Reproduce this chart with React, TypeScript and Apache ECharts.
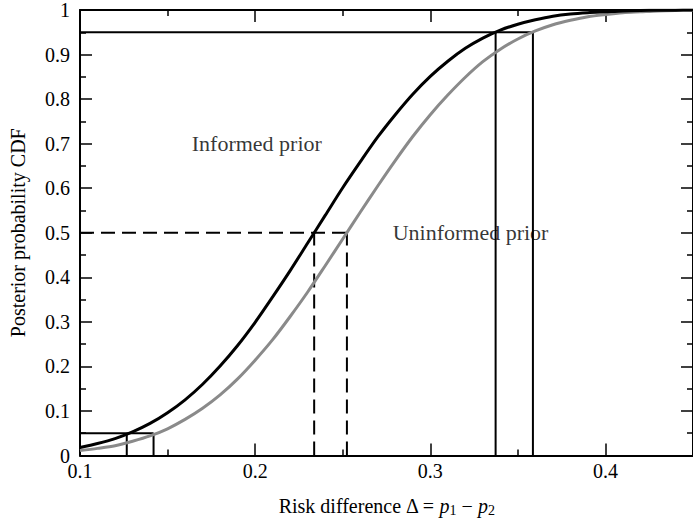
import React, { useEffect, useRef } from "react";
import * as echarts from "echarts";

// Risk difference grid (x) and posterior CDF values
const riskDiff = [0.10, 0.11, 0.12, 0.13, 0.14, 0.15, 0.16, 0.17, 0.18, 0.19, 0.20, 0.21, 0.22, 0.23, 0.24, 0.25, 0.26, 0.27, 0.28, 0.29, 0.30, 0.31, 0.32, 0.33, 0.34, 0.35, 0.36, 0.37, 0.38, 0.39, 0.40, 0.41, 0.42, 0.43, 0.44, 0.45];
const informedCdf = [0.018, 0.027, 0.038, 0.053, 0.072, 0.096, 0.125, 0.160, 0.201, 0.247, 0.299, 0.356, 0.415, 0.477, 0.539, 0.601, 0.659, 0.715, 0.765, 0.811, 0.851, 0.885, 0.914, 0.937, 0.955, 0.968, 0.978, 0.986, 0.991, 0.994, 0.996, 0.998, 0.999, 0.9994, 0.9997, 0.9998];
const uninformedCdf = [0.011, 0.016, 0.022, 0.032, 0.044, 0.060, 0.081, 0.106, 0.136, 0.172, 0.214, 0.260, 0.312, 0.367, 0.426, 0.486, 0.546, 0.605, 0.662, 0.716, 0.765, 0.809, 0.849, 0.884, 0.912, 0.935, 0.953, 0.967, 0.977, 0.985, 0.990, 0.994, 0.996, 0.998, 0.999, 0.9994];

// Quantile reference lines
const probLevels = [0.05, 0.5, 0.95];
const informedQuantiles = [0.1267, 0.2337, 0.3373];
const uninformedQuantiles = [0.142, 0.2524, 0.3586];
const dashedLevel = [false, true, false];

// Annotations
const annotationTexts = ["Informed prior", "Uninformed prior"];
const annotationX = [0.1638, 0.2785];
const annotationY = [0.70, 0.501];

const xTitle = "Risk difference Δ = {i|p}{s|1} − {i|p}{s|2}";
const yTitle = "Posterior probability CDF";

const FONT = "Liberation Serif";

export default function App() {
  const ref = useRef<HTMLDivElement>(null);
  useEffect(() => {
    if (!ref.current) return;
    const chart = echarts.init(ref.current, null, { renderer: "svg" });
    const xMin = 0.1;
    const refSeries: any[] = [];
    probLevels.forEach((p, k) => {
      const style = {
        color: "#000",
        width: 2,
        type: dashedLevel[k] ? [14, 7] : "solid",
      };
      const segs = [
        [[xMin, p], [uninformedQuantiles[k], p]],
        [[informedQuantiles[k], 0], [informedQuantiles[k], p]],
        [[uninformedQuantiles[k], 0], [uninformedQuantiles[k], p]],
      ];
      segs.forEach((d) => {
        refSeries.push({
          type: "line",
          data: d,
          showSymbol: false,
          symbol: "none",
          lineStyle: style,
          xAxisIndex: 0,
          yAxisIndex: 0,
          z: 3,
          silent: true,
        });
      });
    });

    const commonTick = {
      axisLine: { show: true, onZero: false, lineStyle: { color: "#000", width: 2 } },
      axisTick: { show: true, inside: true, length: 12, lineStyle: { color: "#000", width: 1.5 } },
      minorTick: { show: true, splitNumber: 2, length: 6, lineStyle: { color: "#000", width: 1.5 } },
      splitLine: { show: false },
      minorSplitLine: { show: false },
    };

    chart.setOption({
      animation: false,
      backgroundColor: "#fff",
      grid: { left: 80, right: -6.5, top: 10, bottom: 67.5, containLabel: false },
      xAxis: [
        {
          type: "value",
          min: 0.1,
          max: 0.45,
          interval: 0.1,
          position: "bottom",
          ...commonTick,
          axisLabel: {
            color: "#000",
            fontFamily: FONT,
            fontSize: 20,
            margin: 5,
            showMaxLabel: false,
          },
          name: xTitle,
          nameLocation: "middle",
          nameGap: 38,
          nameTextStyle: {
            color: "#000",
            fontFamily: FONT,
            fontSize: 20,
            rich: {
              i: { fontFamily: FONT, fontSize: 20, fontStyle: "italic", color: "#000" },
              s: { fontFamily: FONT, fontSize: 14, color: "#000", padding: [10, 0, 0, 0] },
            },
          },
        },
        {
          type: "value",
          min: 0.1,
          max: 0.45,
          interval: 0.1,
          position: "top",
          ...commonTick,
          axisLabel: { show: false },
        },
      ],
      yAxis: [
        {
          type: "value",
          min: 0,
          max: 1,
          interval: 0.1,
          position: "left",
          ...commonTick,
          axisLabel: {
            color: "#000",
            fontFamily: FONT,
            fontSize: 20,
            margin: 10,
            padding: [6, 0, 0, 0],
          },
          name: yTitle,
          nameLocation: "middle",
          nameGap: 52,
          nameTextStyle: { color: "#000", fontFamily: FONT, fontSize: 20 },
        },
        {
          type: "value",
          min: 0,
          max: 1,
          interval: 0.1,
          position: "right",
          ...commonTick,
          axisLabel: { show: false },
        },
      ],
      series: [
        ...refSeries,
        {
          type: "line",
          name: "Uninformed prior",
          data: riskDiff.map((x, i) => [x, uninformedCdf[i]]),
          showSymbol: false,
          symbol: "none",
          smooth: 0.3,
          lineStyle: { color: "#8a8a8a", width: 3 },
          z: 4,
        },
        {
          type: "line",
          name: "Informed prior",
          data: riskDiff.map((x, i) => [x, informedCdf[i]]),
          showSymbol: false,
          symbol: "none",
          smooth: 0.3,
          lineStyle: { color: "#000", width: 3 },
          z: 5,
        },
        {
          type: "scatter",
          data: annotationTexts.map((t, i) => ({ value: [annotationX[i], annotationY[i]], name: t })),
          symbolSize: 0,
          silent: true,
          z: 2,
          label: {
            show: true,
            position: "right",
            distance: 0,
            formatter: (p: any) => p.name,
            color: "#000",
            fontFamily: FONT,
            fontSize: 22,
          },
        },
      ],
    });
    return () => chart.dispose();
  }, []);
  return (
    <div
      ref={ref}
      style={{ position: "absolute", left: 0, top: 0, width: 693, height: 523, background: "#fff" }}
    />
  );
}
